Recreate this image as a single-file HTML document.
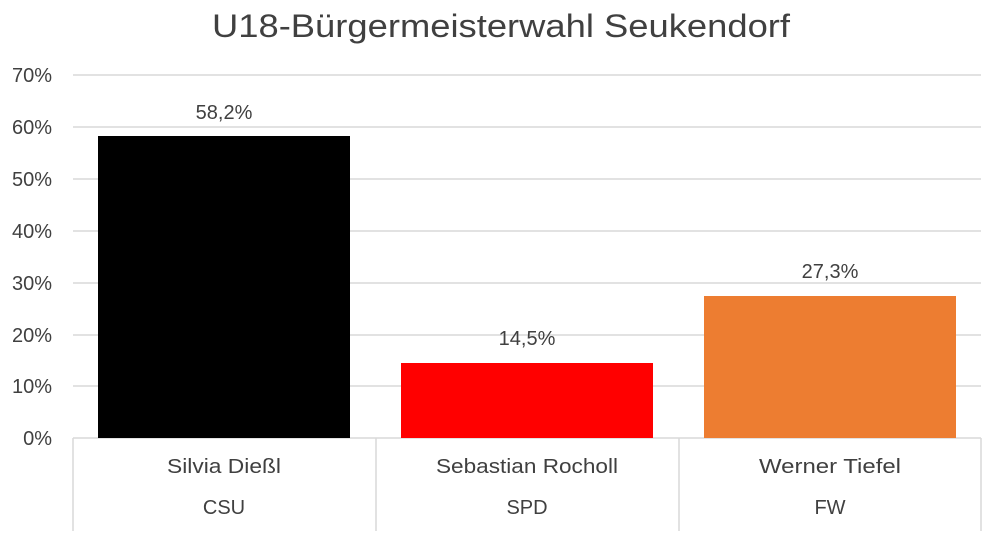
<!DOCTYPE html>
<html><head><meta charset="utf-8"><style>
body{margin:0;background:#fff}
svg text{font-family:"Liberation Sans",sans-serif;fill:#404040}
</style></head><body>
<svg width="991" height="531" xmlns="http://www.w3.org/2000/svg">
<text x="212" y="37" font-size="32" textLength="578" lengthAdjust="spacingAndGlyphs" fill="#505050">U18-Bürgermeisterwahl Seukendorf</text>
<g stroke="#d9d9d9" stroke-width="1.5">
<line x1="73" y1="75" x2="981" y2="75"/>
<line x1="73" y1="127" x2="981" y2="127"/>
<line x1="73" y1="179" x2="981" y2="179"/>
<line x1="73" y1="231" x2="981" y2="231"/>
<line x1="73" y1="283" x2="981" y2="283"/>
<line x1="73" y1="335" x2="981" y2="335"/>
<line x1="73" y1="386" x2="981" y2="386"/>
<line x1="73" y1="438" x2="981" y2="438"/>
<line x1="73" y1="438" x2="73" y2="531"/>
<line x1="376" y1="438" x2="376" y2="531"/>
<line x1="679" y1="438" x2="679" y2="531"/>
<line x1="981" y1="438" x2="981" y2="531"/>
</g>
<g font-size="20" text-anchor="end">
<text x="52" y="82">70%</text>
<text x="52" y="134">60%</text>
<text x="52" y="186">50%</text>
<text x="52" y="238">40%</text>
<text x="52" y="290">30%</text>
<text x="52" y="342">20%</text>
<text x="52" y="393">10%</text>
<text x="52" y="445">0%</text>
</g>
<rect x="98" y="136" width="252" height="302" fill="#000"/>
<rect x="401" y="363" width="252" height="75" fill="#ff0000"/>
<rect x="704" y="296" width="252" height="142" fill="#ed7d31"/>
<g font-size="20" text-anchor="middle">
<text x="224" y="119">58,2%</text>
<text x="527" y="345">14,5%</text>
<text x="830" y="278">27,3%</text>
<text x="224" y="473" textLength="114" lengthAdjust="spacingAndGlyphs">Silvia Dießl</text>
<text x="527" y="473" textLength="182" lengthAdjust="spacingAndGlyphs">Sebastian Rocholl</text>
<text x="830" y="473" textLength="142" lengthAdjust="spacingAndGlyphs">Werner Tiefel</text>
<text x="224" y="514">CSU</text>
<text x="527" y="514">SPD</text>
<text x="830" y="514">FW</text>
</g>
</svg>
</body></html>
